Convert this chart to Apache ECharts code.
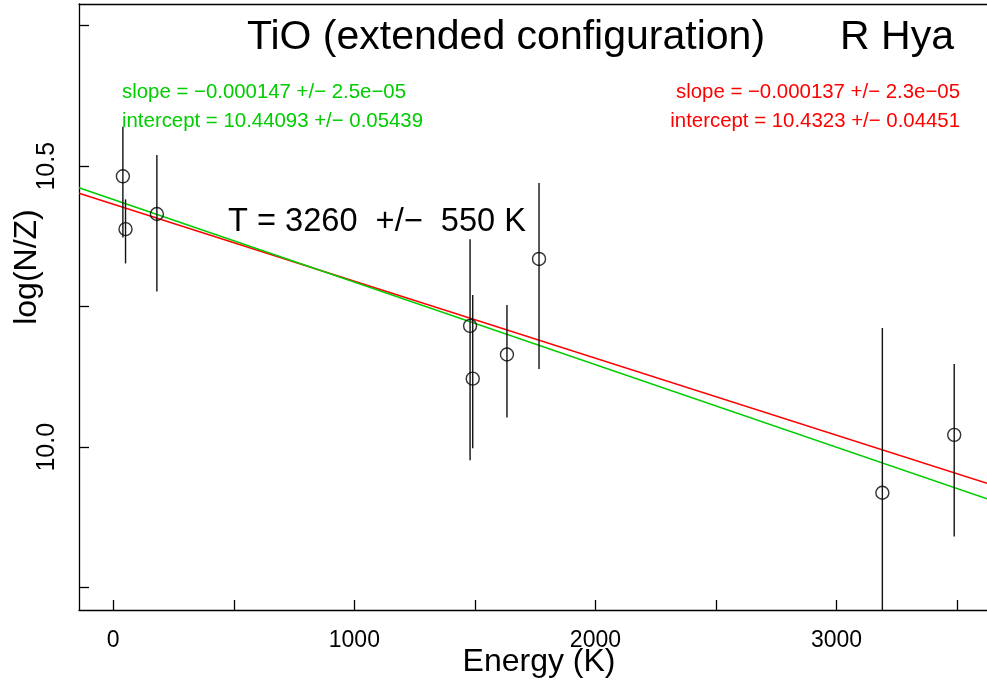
<!DOCTYPE html>
<html>
<head>
<meta charset="utf-8">
<script src="https://cdn.jsdelivr.net/npm/echarts@6/dist/echarts.min.js"></script>
<style>
html,body{margin:0;padding:0;background:#fff;}
#chart{width:987px;height:688px;}
</style>
</head>
<body>
<div id="chart"></div>
<script>
// ---- data ----
const energy  = [40, 51, 181, 1480, 1491, 1633, 1766, 3190, 3488];
const logNZ   = [10.482, 10.388, 10.415, 10.216, 10.122, 10.165, 10.335, 9.919, 10.022];
const errLow  = [10.373, 10.327, 10.277, 9.977, 9.998, 10.053, 10.139, 9.62, 9.841];
const errHigh = [10.570, 10.441, 10.520, 10.370, 10.271, 10.253, 10.470, 10.212, 10.148];

const greenFit = {slope: -0.000147, intercept: 10.44093};
const redFit   = {slope: -0.000137, intercept: 10.4323};

const xTicks = [0, 500, 1000, 1500, 2000, 2500, 3000, 3500];
const xLabels = [0, 1000, 2000, 3000];
const yTicks = [9.75, 10.0, 10.25, 10.5, 10.75];
const yLabels = [10.0, 10.5];

const xMin = -142, xMax = 3624;
const yMin = 9.7104, yMax = 10.7886;

const FONT = '"Liberation Sans", Arial, Helvetica, sans-serif';
const GREEN = '#00cd00';
const RED = '#ff0000';

function fitLine(f) {
  return [[xMin, f.intercept + f.slope * xMin], [xMax, f.intercept + f.slope * xMax]];
}

const axisLineStyle = {color: '#000', width: 1.3};

const chart = echarts.init(document.getElementById('chart'), null, {renderer: 'canvas'});
chart.setOption({
  animation: false,
  backgroundColor: '#fff',
  grid: {left: 79, top: 4, right: 0, bottom: 78, show: false},
  xAxis: [{
    type: 'value', min: xMin, max: xMax, position: 'bottom',
    splitLine: {show: false},
    axisLine: {show: true, onZero: false, lineStyle: axisLineStyle},
    axisTick: {show: true, inside: true, length: 10, customValues: xTicks, lineStyle: axisLineStyle},
    axisLabel: {customValues: xLabels, color: '#000', fontSize: 23, fontFamily: FONT, margin: 19,
      formatter: v => String(v)}
  }, {
    type: 'value', min: xMin, max: xMax, position: 'top',
    splitLine: {show: false},
    axisLine: {show: true, onZero: false, lineStyle: axisLineStyle},
    axisTick: {show: false}, axisLabel: {show: false}
  }],
  yAxis: {
    type: 'value', min: yMin, max: yMax,
    splitLine: {show: false},
    axisLine: {show: true, onZero: false, lineStyle: axisLineStyle},
    axisTick: {show: true, inside: true, length: 10, customValues: yTicks, lineStyle: axisLineStyle},
    axisLabel: {customValues: yLabels, rotate: 90, color: '#000', fontSize: 25, fontFamily: FONT, margin: 19,
      formatter: v => v.toFixed(1)}
  },
  series: [
    {
      type: 'line', data: fitLine(redFit), symbol: 'none', clip: true,
      lineStyle: {color: RED, width: 1.5}, z: 2
    },
    {
      type: 'line', data: fitLine(greenFit), symbol: 'none', clip: true,
      lineStyle: {color: GREEN, width: 1.5}, z: 2
    },
    {
      type: 'custom', clip: true, z: 3,
      data: energy.map((e, i) => [e, errLow[i], errHigh[i]]),
      renderItem: function (params, api) {
        const p1 = api.coord([api.value(0), api.value(1)]);
        const p2 = api.coord([api.value(0), api.value(2)]);
        return {type: 'line', shape: {x1: p1[0], y1: p1[1], x2: p2[0], y2: p2[1]},
          style: {stroke: '#111', lineWidth: 1.4}};
      }
    },
    {
      type: 'scatter', z: 4,
      data: energy.map((e, i) => [e, logNZ[i]]),
      symbol: 'circle', symbolSize: 13,
      itemStyle: {color: 'rgba(0,0,0,0)', borderColor: '#000', borderWidth: 1.4}
    }
  ],
  graphic: [
    {type: 'text', x: 506, y: 38, style: {text: 'TiO (extended configuration)', font: '41px ' + FONT, fill: '#000', align: 'center', verticalAlign: 'middle'}},
    {type: 'text', x: 897, y: 38, style: {text: 'R Hya', font: '41px ' + FONT, fill: '#000', align: 'center', verticalAlign: 'middle'}},
    {type: 'text', x: 122, y: 92, style: {text: 'slope = \u22120.000147 +/\u2212 2.5e\u221205', font: '20.4px ' + FONT, fill: GREEN, align: 'left', verticalAlign: 'middle'}},
    {type: 'text', x: 122, y: 121, style: {text: 'intercept = 10.44093 +/\u2212 0.05439', font: '20.4px ' + FONT, fill: GREEN, align: 'left', verticalAlign: 'middle'}},
    {type: 'text', x: 960, y: 92, style: {text: 'slope = \u22120.000137 +/\u2212 2.3e\u221205', font: '20.4px ' + FONT, fill: RED, align: 'right', verticalAlign: 'middle'}},
    {type: 'text', x: 960, y: 121, style: {text: 'intercept = 10.4323 +/\u2212 0.04451', font: '20.4px ' + FONT, fill: RED, align: 'right', verticalAlign: 'middle'}},
    {type: 'text', x: 228, y: 222, style: {text: 'T = 3260  +/\u2212  550 K', font: '32.6px ' + FONT, fill: '#000', align: 'left', verticalAlign: 'middle'}},
    {type: 'text', x: 539, y: 662, style: {text: 'Energy (K)', font: '32px ' + FONT, fill: '#000', align: 'center', verticalAlign: 'middle'}},
    {type: 'text', x: 27, y: 267, rotation: Math.PI / 2, style: {text: 'log(N/Z)', font: '32px ' + FONT, fill: '#000', align: 'center', verticalAlign: 'middle'}}
  ]
});
</script>
</body>
</html>
